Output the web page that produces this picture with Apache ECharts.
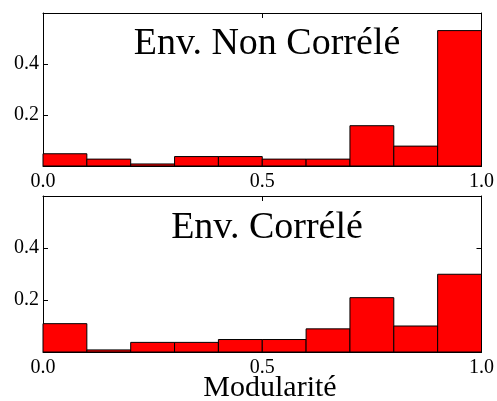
<!DOCTYPE html>
<html><head><meta charset="utf-8">
<script src="https://cdn.jsdelivr.net/npm/echarts@6/dist/echarts.min.js"></script>
<style>html,body{margin:0;padding:0;background:#fff}#c{width:497px;height:401px}</style>
</head><body><div id="c"></div>
<script>
const binStarts = [0.0,0.1,0.2,0.3,0.4,0.5,0.6,0.7,0.8,0.9];
const binWidth = 0.1;
const nonCorrValues = [0.048,0.027,0.008,0.037,0.037,0.027,0.027,0.158,0.078,0.531];
const corrValues = [0.109,0.008,0.037,0.037,0.048,0.048,0.089,0.209,0.100,0.299];
const titles = ['Env. Non Corrélé','Env. Corrélé'];
const xTicks = [0, 0.5, 1.0];
const yTicks = [0.2, 0.4];
const xLabel = 'Modularité';

const FONT = 'Liberation Serif';
const chart = echarts.init(document.getElementById('c'), null, {renderer:'canvas'});

function renderBar(params, api){
  const x0 = api.value(0), v = api.value(1);
  const p0 = api.coord([x0, 0]);
  const p1 = api.coord([x0 + binWidth, v]);
  return {type:'rect', shape:{x:p0[0], y:p1[1], width:p1[0]-p0[0], height:p0[1]-p1[1]},
    style:{fill:'#ff0000', stroke:'#000', lineWidth:1}};
}
const grids = [
  {left:43, right:15, top:13, height:153},
  {left:43, right:15, top:196, height:156}
];
const xAxes = [], yAxes = [], series = [];
grids.forEach((g,i)=>{
  xAxes.push({type:'value', gridIndex:i, min:0, max:1, interval:0.5, position:'bottom',
    axisLine:{show:true, onZero:false, lineStyle:{color:'#000', width:1}},
    axisTick:{show:true, inside:true, length:5, lineStyle:{color:'#000'}},
    axisLabel:{show:true, margin:6, color:'#000', fontFamily:FONT, fontSize:20,
      formatter:v=>xTicks.includes(v)?v.toFixed(1):''},
    splitLine:{show:false}});
  xAxes.push({type:'value', gridIndex:i, min:0, max:1, interval:0.5, position:'top',
    axisLine:{show:true, onZero:false, lineStyle:{color:'#000', width:1}},
    axisTick:{show:true, inside:true, length:5, lineStyle:{color:'#000'}},
    axisLabel:{show:false}, splitLine:{show:false}});
  yAxes.push({type:'value', gridIndex:i, min:0, max:0.6, interval:0.2, position:'left',
    axisLine:{show:true, onZero:false, lineStyle:{color:'#000', width:1}},
    axisTick:{show:true, inside:true, length:5, lineStyle:{color:'#000'}},
    axisLabel:{show:true, margin:4, color:'#000', fontFamily:FONT, fontSize:20,
      formatter:v=>yTicks.some(t=>Math.abs(t-v)<1e-9)?v.toFixed(1):''},
    splitLine:{show:false}});
  yAxes.push({type:'value', gridIndex:i, min:0, max:0.6, interval:0.2, position:'right',
    axisLine:{show:true, onZero:false, lineStyle:{color:'#000', width:1}},
    axisTick:{show:true, inside:true, length:5, lineStyle:{color:'#000'}},
    axisLabel:{show:false}, splitLine:{show:false}});
  const vals = i===0 ? nonCorrValues : corrValues;
  series.push({type:'custom', xAxisIndex:2*i, yAxisIndex:2*i, renderItem:renderBar,
    data: binStarts.map((b,k)=>[b, vals[k]]), z:1, silent:true});
});
chart.setOption({
  animation:false,
  grid: grids,
  xAxis: xAxes, yAxis: yAxes, series: series,
  title: [
    {text:titles[0], left:262, textAlign:'center', top:20, textStyle:{fontFamily:FONT, fontSize:38, fontWeight:'normal', color:'#000'}},
    {text:titles[1], left:262, textAlign:'center', top:204, textStyle:{fontFamily:FONT, fontSize:38, fontWeight:'normal', color:'#000'}},
    {text:xLabel, left:265, textAlign:'center', top:368, textStyle:{fontFamily:FONT, fontSize:30, fontWeight:'normal', color:'#000'}}
  ]
});
</script></body></html>
